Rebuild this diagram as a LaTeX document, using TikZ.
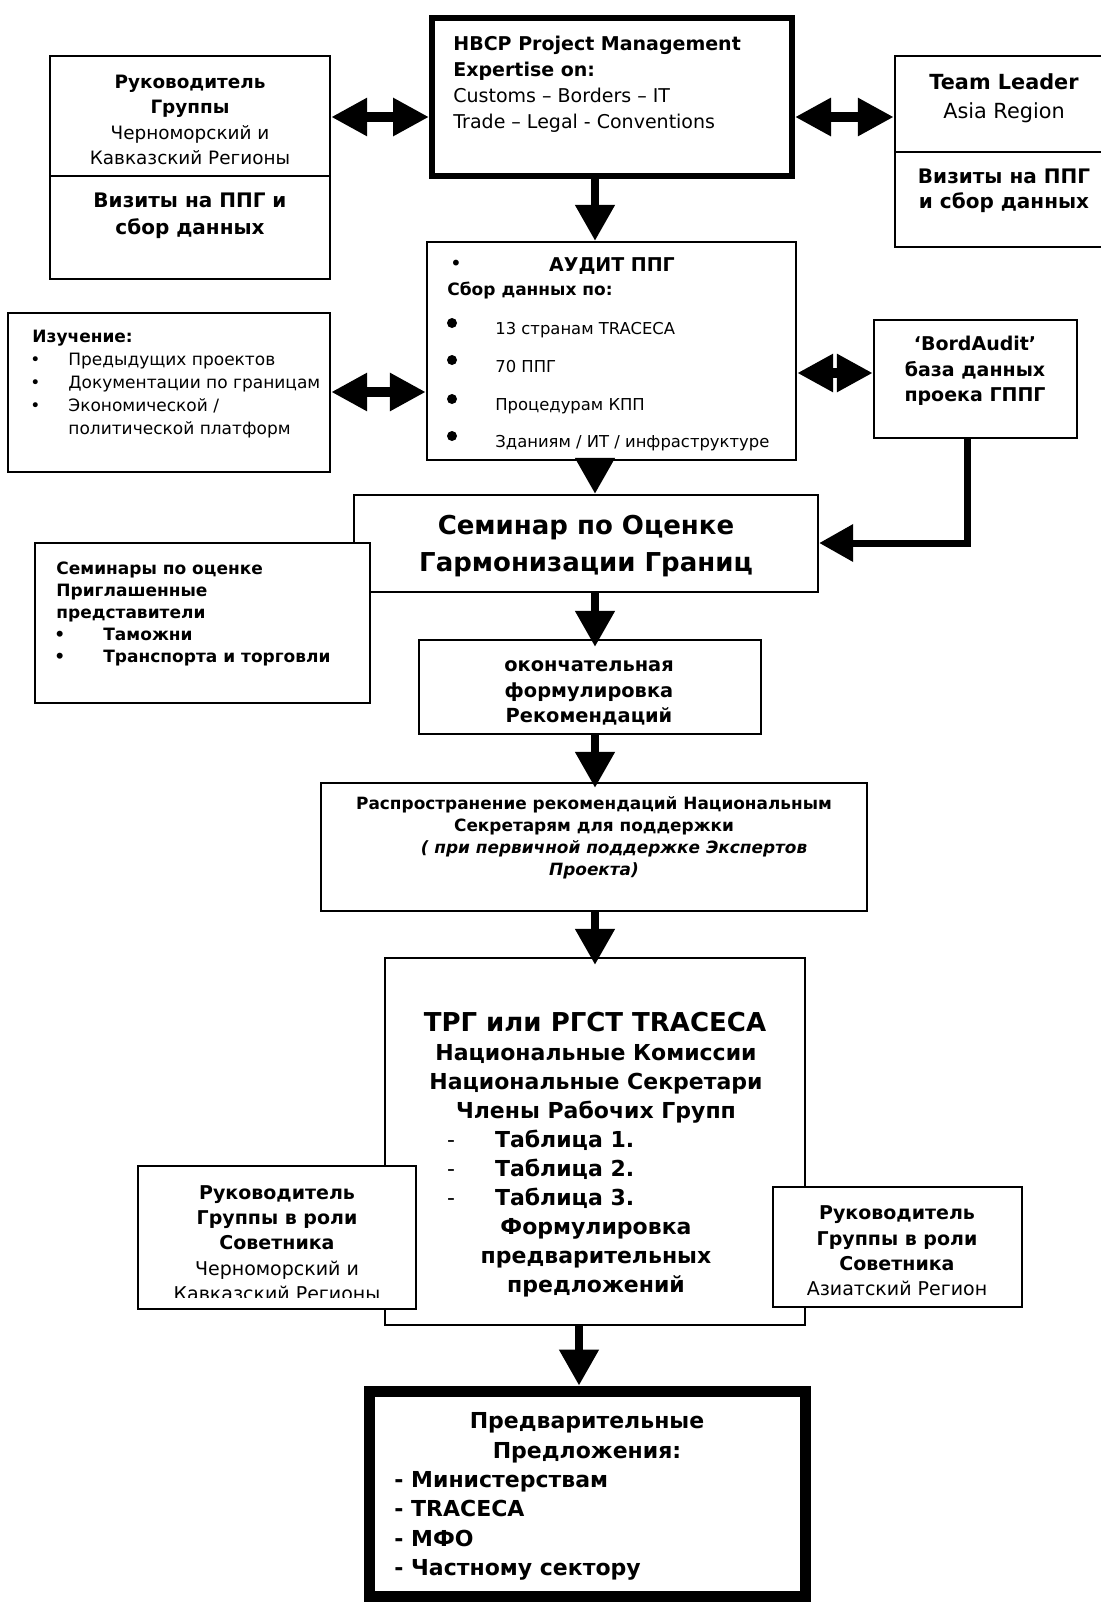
\documentclass[tikz,border=0pt]{standalone}
\usepackage{fontspec}
\setmainfont{DejaVu Sans}
\usetikzlibrary{arrows.meta,fit}
\newcommand{\setfs}[2]{\fontsize{#1}{#2}\selectfont}
\tikzset{
  box/.style={draw,line width=1.2pt,fill=white,inner sep=0pt},
  heavy/.style={box,line width=3pt},
  heavier/.style={box,line width=5.5pt},
  txt/.style={inner sep=0pt,align=center},
  down/.style={line width=4pt,-{Triangle[width=19pt,length=18pt]}},
  feed/.style={line width=3.5pt,-{Triangle[width=18pt,length=17pt]}},
  both/.style={line width=5pt,{Triangle[width=18pt,length=18pt]}-{Triangle[width=18pt,length=18pt]}},
}
\begin{document}
\begin{tikzpicture}[x=0.5pt,y=-0.5pt,line join=miter]
\useasboundingbox (0,0) rectangle (1101,1602);
\coordinate (spine) at (595,0);
% top row
\node[heavy,fit={(432,18)(792,176)}] (hbcp) {};
\node[txt,align=left,anchor=west,font=\setfs{9.5}{13}] (hbcptxt) at (453,84)
  {\textbf{HBCP Project Management}\\\textbf{Expertise on:}\\Customs – Borders – IT\\Trade – Legal - Conventions};
\node[box,fit={(50,56)(330,279)}] (lead) {};
\draw[line width=1.2pt] (50,176) -- (330,176);
\node[txt,font=\setfs{9.2}{12.7}] (leadtxt) at (190,120)
  {\textbf{Руководитель}\\\textbf{Группы}\\Черноморский и\\Кавказский Регионы};
\node[txt,font=\bfseries\setfs{10}{13.5}] (leadvis) at (190,216) {Визиты на ППГ и\\сбор данных};
\node[box,fit={(895,56)(1110,247)}] (team) {};
\draw[line width=1.2pt] (895,152) -- (1110,152);
\node[txt,font=\setfs{10.4}{14.5}] (teamtxt) at (1004,98) {\textbf{Team Leader}\\Asia Region};
\node[txt,font=\bfseries\setfs{10}{12.5}] (teamvis) at (1004,191) {Визиты на ППГ\\и сбор данных};
% audit row
\node[box,fit={(427,242)(796,460)}] (audit) {};
\node[txt] (audbul) at (456,265) {•};
\node[txt,font=\bfseries\setfs{9.5}{12}] (audtitle) at (612,266) {АУДИТ ППГ};
\node[txt,anchor=west,font=\bfseries\setfs{8.5}{12}] (audsub) at (447,291) {Сбор данных по:};
\foreach \y/\t in {330/13 странам TRACECA,367/70 ППГ,406/Процедурам КПП,443/{Зданиям / ИТ / инфраструктуре}}{
  \fill (452,\y-7) circle(2.5pt);
  \node[txt,anchor=west,font=\setfs{8.2}{11}] (aud\y) at (495,\y) {\t};
}
\node[box,fit={(8,313)(330,472)}] (study) {};
\node[txt,align=left,anchor=west,font=\setfs{8.5}{11.5}] (studytxt) at (32,384)
  {\textbf{Изучение:}\\\hspace*{-1pt}\makebox[19pt][l]{•}Предыдущих проектов\\
   \hspace*{-1pt}\makebox[19pt][l]{•}Документации по границам\\
   \hspace*{-1pt}\makebox[19pt][l]{•}Экономической /\\\hspace*{18pt}политической платформ};
\node[box,fit={(874,320)(1077,438)}] (bord) {};
\node[txt,font=\bfseries\setfs{9.5}{12.8}] (bordtxt) at (975,371) {‘BordAudit’\\база данных\\проека ГППГ};
% seminar
\node[box,fit={(354,495)(818,592)}] (seminar) {};
\node[txt,font=\bfseries\setfs{13}{18.5}] (semtxt) at (586,546) {Семинар по Оценке\\Гармонизации Границ};
\node[box,fit={(35,543)(370,703)}] (invite) {};
\node[txt,align=left,anchor=west,font=\bfseries\setfs{8.5}{11}] (invtxt) at (56,614)
  {Семинары по оценке\\Приглашенные\\представители\\
   \hspace*{-1pt}\makebox[24.5pt][l]{•}Таможни\\\hspace*{-1pt}\makebox[24.5pt][l]{•}Транспорта и торговли};
\node[box,fit={(419,640)(761,734)}] (final) {};
\node[txt,font=\bfseries\setfs{9.7}{12.7}] (finaltxt) at (589,693) {окончательная\\формулировка\\Рекомендаций};
\node[box,fit={(321,783)(867,911)}] (spread) {};
\node[txt,font=\bfseries\setfs{8.45}{11}] (spreadtxt) at (594,838)
  {Распространение рекомендаций Национальным\\Секретарям для поддержки\\
   \hspace*{20pt}\textit{( при первичной поддержке Экспертов}\\\textit{Проекта)}};
% working groups
\node[box,fit={(385,958)(805,1325)}] (trg) {};
\node[txt,font=\bfseries\setfs{13}{16}] (trgtitle) at (595,1022) {ТРГ или РГСТ TRACECA};
\node[txt,font=\bfseries\setfs{11}{14.5}] (trgtxt) at (596,1171)
  {Национальные Комиссии\\Национальные Секретари\\Члены Рабочих Групп\\
   \makebox[149pt][l]{\makebox[24pt][l]{\mdseries-}Таблица 1.}\\
   \makebox[149pt][l]{\makebox[24pt][l]{\mdseries-}Таблица 2.}\\
   \makebox[149pt][l]{\makebox[24pt][l]{\mdseries-}Таблица 3.}\\
   Формулировка\\предварительных\\предложений};
\node[box,fit={(138,1166)(416,1309)}] (advleft) {};
\begin{scope}
  \clip (139,1167) rectangle (415,1297);
  \node[txt,font=\setfs{9.5}{12.7}] (advlefttxt) at (277,1243)
    {\textbf{Руководитель}\\\textbf{Группы в роли}\\\textbf{Советника}\\Черноморский и\\Кавказский Регионы};
\end{scope}
\node[box,fit={(773,1187)(1022,1307)}] (advright) {};
\node[txt,font=\setfs{9.5}{12.7}] (advrighttxt) at (897,1251)
  {\textbf{Руководитель}\\\textbf{Группы в роли}\\\textbf{Советника}\\Азиатский Регион};
\node[heavier,fit={(369,1391)(805,1596)}] (prop) {};
\node[txt,font=\bfseries\setfs{11}{15}] (prophead) at (587,1438) {Предварительные\\Предложения:};
\node[txt,align=left,anchor=west,font=\bfseries\setfs{11}{14.7}] (proplist) at (394,1526)
  {- Министерствам\\- TRACECA\\- МФО\\- Частному сектору};
% connectors
\draw[both] (lead.east |- 0,117) -- (hbcp.west |- 0,117);
\draw[both] (hbcp.east |- 0,117) -- (team.west |- 0,117);
\draw[both] (study.east |- 0,392) -- (audit.west |- 0,392);
\draw[both] (audit.east |- 0,373) -- (bord.west |- 0,373);
\draw[down] (hbcp.south -| spine) -- (audit.north -| spine);
\draw[down] (audit.south -| spine) -- (seminar.north -| spine);
\draw[down] (seminar.south -| spine) -- ([yshift=-4pt]final.north -| spine);
\draw[down] (final.south -| spine) -- ([yshift=-3pt]spread.north -| spine);
\draw[down] (spread.south -| spine) -- ([yshift=-4pt]trg.north -| spine);
\draw[down] (trg.south -| 579,0) -- (prop.north -| 579,0);
\draw[feed] (bord.south -| 967,0) |- (seminar.east |- 0,543);
\end{tikzpicture}
\end{document}
